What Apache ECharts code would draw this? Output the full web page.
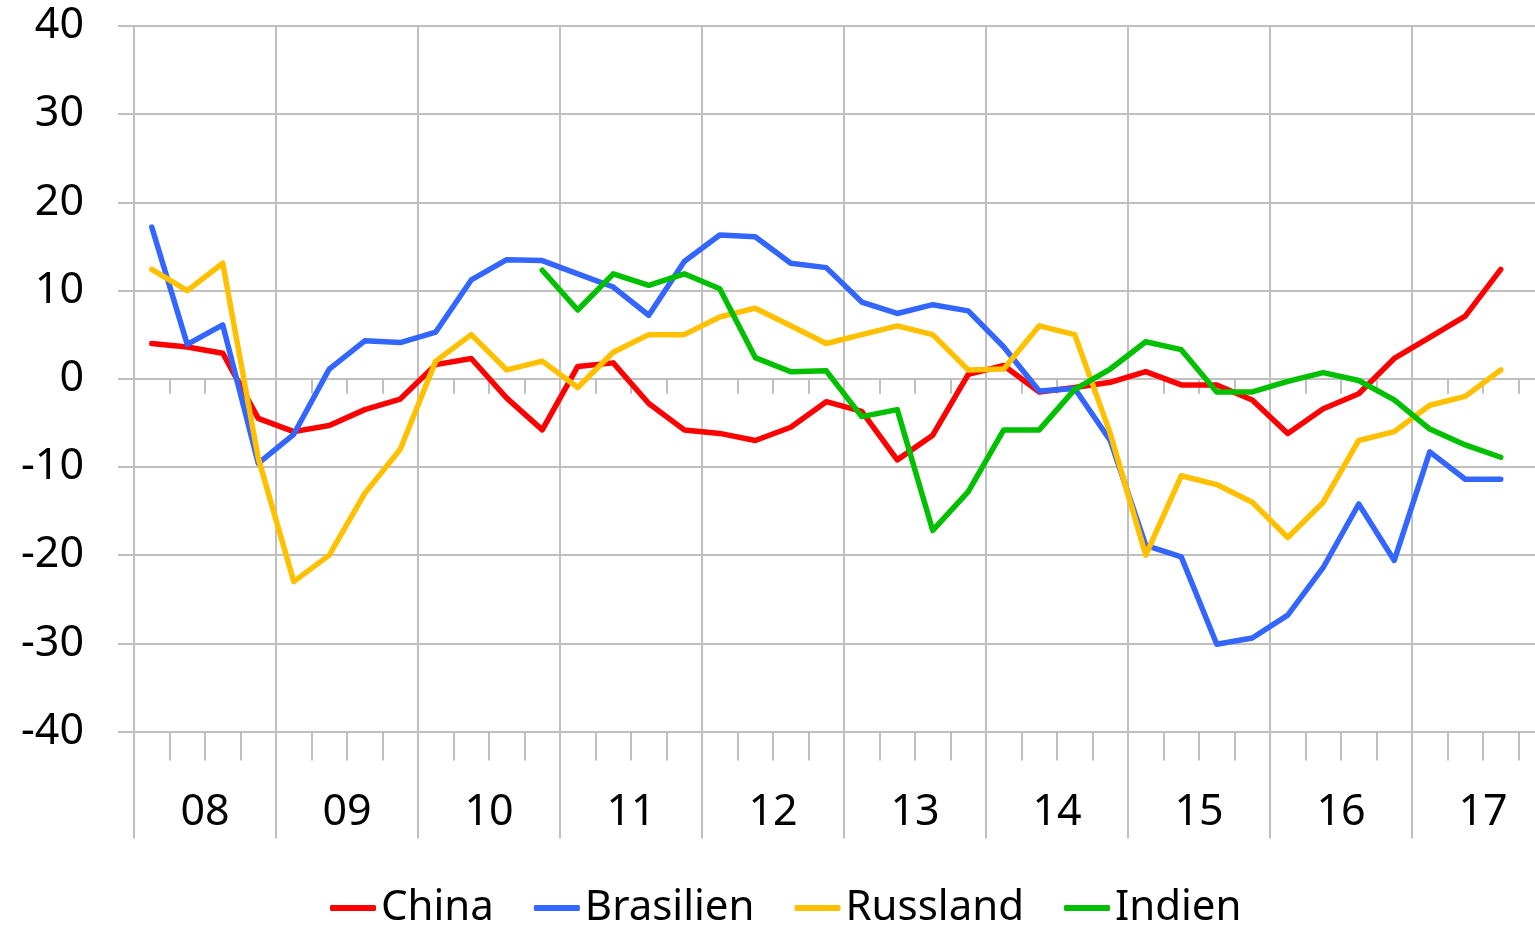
<!DOCTYPE html>
<html>
<head>
<meta charset="utf-8">
<script src="https://cdn.jsdelivr.net/npm/echarts@6/dist/echarts.min.js"></script>
<style>
  html, body { margin: 0; padding: 0; background: #fff; }
  #chart { width: 1535px; height: 926px; }
</style>
</head>
<body>
<div id="chart"></div>
<script>
const years = ['08', '09', '10', '11', '12', '13', '14', '15', '16', '17']
const quarters = years.flatMap(y => ['Q1', 'Q2', 'Q3', 'Q4'].map(q => y + q))
const yTicks = { min: -40, max: 40, step: 10 }

// Quartalswerte 08Q1 .. 17Q3
const china = [4.0, 3.6, 2.9, -4.5, -6.0, -5.3, -3.5, -2.3, 1.6, 2.3, -2.2, -5.8, 1.4, 1.8, -2.8, -5.8,
  -6.2, -7.0, -5.5, -2.6, -3.7, -9.2, -6.4, 0.5, 1.5, -1.5, -1.0, -0.4, 0.8, -0.7, -0.7, -2.4,
  -6.2, -3.4, -1.7, 2.3, 4.7, 7.1, 12.4]
const brasilien = [17.2, 3.9, 6.1, -9.6, -6.3, 1.1, 4.3, 4.1, 5.3, 11.2, 13.5, 13.4, 11.9, 10.4, 7.2, 13.3,
  16.3, 16.1, 13.1, 12.6, 8.7, 7.4, 8.4, 7.7, 3.6, -1.4, -1.1, -7.0, -18.9, -20.2, -30.1, -29.4,
  -26.8, -21.4, -14.2, -20.6, -8.3, -11.4, -11.4]
const russland = [12.4, 10.0, 13.1, -9.0, -23.0, -20.0, -13.0, -8.0, 2.0, 5.0, 1.0, 2.0, -1.0, 3.0, 5.0, 5.0,
  7.0, 8.0, 6.0, 4.0, 5.0, 6.0, 5.0, 1.0, 1.1, 6.0, 5.0, -6.2, -20.0, -11.0, -12.0, -14.0,
  -18.0, -14.0, -7.0, -6.0, -3.0, -2.0, 1.0]
const indien = [null, null, null, null, null, null, null, null, null, null, null, 12.3, 7.8, 11.9, 10.6, 11.9,
  10.2, 2.4, 0.8, 0.9, -4.3, -3.5, -17.2, -12.8, -5.8, -5.8, -1.2, 1.1, 4.2, 3.3, -1.5, -1.5,
  -0.3, 0.7, -0.2, -2.4, -5.7, -7.5, -8.9]

const gridLine = { color: '#C0C0C0', width: 2 }
const font = 'Noto Sans'

const chart = echarts.init(document.getElementById('chart'))

function lineSeries(name, data, color) {
  return {
    name: name,
    type: 'line',
    data: data,
    xAxisIndex: 0,
    showSymbol: false,
    symbol: 'none',
    connectNulls: false,
    color: color,
    lineStyle: { width: 5.5, color: color, cap: 'round', join: 'round' }
  }
}

chart.setOption({
  animation: false,
  textStyle: { fontFamily: font },
  // Plot reicht rechts über den Rand hinaus (17Q4 abgeschnitten)
  grid: { left: 134, right: -19, top: 26, bottom: 194.5, outerBoundsMode: 'none', containLabel: false },
  legend: {
    left: 330,
    top: 887,
    padding: 0,
    icon: 'roundRect',
    itemWidth: 46,
    itemHeight: 6,
    itemGap: 40,
    textStyle: { fontSize: 42, color: '#000', fontFamily: font },
    data: ['China', 'Brasilien', 'Russland', 'Indien']
  },
  xAxis: [
    {
      // Quartalsstriche an der Nulllinie
      type: 'category',
      data: quarters,
      position: 'bottom',
      axisLine: { show: true, onZero: true, lineStyle: gridLine },
      axisTick: { show: true, interval: 0, length: 15, lineStyle: gridLine },
      axisLabel: { show: false },
      splitLine: { show: false }
    },
    {
      // Quartalsstriche unten
      type: 'category',
      data: quarters,
      position: 'bottom',
      axisLine: { show: true, onZero: false, lineStyle: gridLine },
      axisTick: { show: true, interval: 0, length: 29, lineStyle: gridLine },
      axisLabel: { show: false },
      splitLine: { show: false }
    },
    {
      // Jahre: Beschriftung, lange Striche, senkrechte Gitterlinien
      type: 'category',
      data: years,
      position: 'bottom',
      axisLine: { show: false, onZero: false },
      axisTick: { show: true, interval: 0, length: 107, lineStyle: gridLine },
      axisLabel: { interval: 0, margin: 60, fontSize: 43, color: '#000', fontFamily: font },
      splitLine: { show: true, interval: 0, lineStyle: gridLine }
    }
  ],
  yAxis: {
    type: 'value',
    min: yTicks.min,
    max: yTicks.max,
    interval: yTicks.step,
    axisLine: { show: true, lineStyle: gridLine },
    axisTick: { show: true, length: 16, lineStyle: gridLine },
    axisLabel: { margin: 50, fontSize: 43, color: '#000', fontFamily: font },
    splitLine: { show: true, lineStyle: gridLine }
  },
  series: [
    lineSeries('China', china, '#FF0000'),
    lineSeries('Brasilien', brasilien, '#3366FF'),
    lineSeries('Russland', russland, '#FFC000'),
    lineSeries('Indien', indien, '#00C000')
  ]
})
</script>
</body>
</html>
